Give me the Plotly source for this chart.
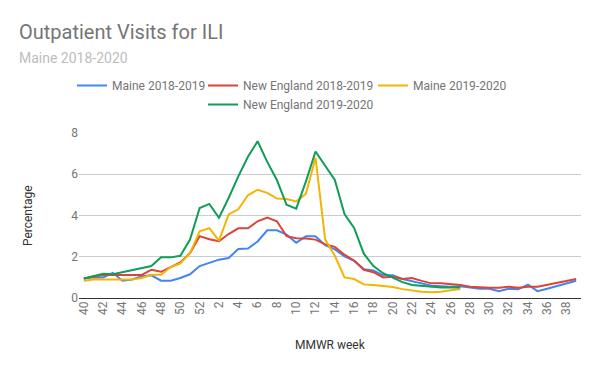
import plotly.graph_objects as go

weeks = ["40", "41", "42", "43", "44", "45", "46", "47", "48", "49", "50", "51", "52",
         "1", "2", "3", "4", "5", "6", "7", "8", "9", "10", "11", "12", "13", "14",
         "15", "16", "17", "18", "19", "20", "21", "22", "23", "24", "25", "26", "27",
         "28", "29", "30", "31", "32", "33", "34", "35", "36", "37", "38", "39"]

maine_1819 = [0.95, 1.0, 1.0, 1.22, 0.84, 0.9, 1.05, 1.1, 0.84, 0.84, 0.97, 1.15, 1.55,
              1.72, 1.86, 1.94, 2.38, 2.4, 2.74, 3.28, 3.28, 3.07, 2.68, 2.99, 2.99, 2.56, 2.36,
              2.02, 1.8, 1.4, 1.33, 1.1, 1.1, 0.92, 0.81, 0.7, 0.6, 0.57, 0.54, 0.57,
              0.5, 0.45, 0.45, 0.33, 0.45, 0.42, 0.65, 0.33, 0.45, 0.57, 0.7, 0.84]

ne_1819 = [0.95, 1.05, 1.12, 1.12, 1.12, 1.12, 1.12, 1.37, 1.27, 1.5, 1.72, 2.18, 3.0,
           2.85, 2.75, 3.1, 3.38, 3.38, 3.72, 3.9, 3.72, 3.0, 2.9, 2.88, 2.83, 2.6, 2.48,
           2.1, 1.82, 1.37, 1.25, 1.0, 1.03, 0.92, 0.97, 0.83, 0.71, 0.71, 0.68, 0.63,
           0.55, 0.52, 0.5, 0.5, 0.55, 0.5, 0.55, 0.55, 0.65, 0.75, 0.85, 0.92]

maine_1920 = [0.84, 0.9, 0.9, 0.9, 0.9, 0.9, 0.97, 1.13, 1.13, 1.5, 1.68, 2.18, 3.23,
              3.39, 2.78, 4.05, 4.3, 4.98, 5.25, 5.1, 4.82, 4.8, 4.68, 5.05, 6.8, 2.83, 2.05,
              1.0, 0.92, 0.66, 0.63, 0.58, 0.53, 0.43, 0.35, 0.3, 0.28, 0.3, 0.38, 0.43]

ne_1920 = [0.95, 1.08, 1.18, 1.15, 1.25, 1.35, 1.45, 1.55, 1.97, 1.97, 2.05, 2.83, 4.36,
           4.56, 3.89, 4.85, 5.9, 6.85, 7.6, 6.6, 5.72, 4.52, 4.33, 5.64, 7.1, 6.42, 5.72,
           4.07, 3.4, 2.15, 1.55, 1.2, 1.0, 0.77, 0.63, 0.58, 0.53, 0.51, 0.51, 0.51]

series = [
    ("Maine 2018-2019", maine_1819, "#4285F4", "legend"),
    ("New England 2018-2019", ne_1819, "#DB4437", "legend2"),
    ("Maine 2019-2020", maine_1920, "#F4B400", "legend3"),
    ("New England 2019-2020", ne_1920, "#0F9D58", "legend2"),
]

fig = go.Figure()
for name, vals, color, leg in series:
    fig.add_trace(go.Scatter(
        x=weeks[:len(vals)], y=vals, name=name, mode="lines",
        line=dict(color=color, width=2), legend=leg,
    ))

L, R, T, B = 78.5, 18.5, 133, 72.5
PW, PH = 600 - L - R, 371 - T - B


def px_x(p):
    return (p - L) / PW


def px_y(p):
    return (371 - B - p) / PH


legend_common = dict(
    orientation="v", xref="container", yref="container",
    xanchor="left", yanchor="top",
    font=dict(family="Roboto", size=12, color="#757575"),
    bgcolor="rgba(0,0,0,0)", tracegroupgap=0,
)

fig.update_layout(
    width=600, height=371,
    margin=dict(l=L, r=R, t=T, b=B, autoexpand=False),
    paper_bgcolor="white", plot_bgcolor="white",
    font=dict(family="Roboto", size=12, color="#757575"),
    title=dict(text="Outpatient Visits for ILI", xref="container", yref="container",
               x=19 / 600, y=1 - 32 / 371, xanchor="left", yanchor="middle",
               font=dict(family="Roboto", size=20, color="#757575")),
    legend=dict(x=72 / 600, y=1 - 71 / 371, **legend_common),
    legend2=dict(x=203 / 600, y=1 - 71 / 371, **legend_common),
    legend3=dict(x=373 / 600, y=1 - 71 / 371, **legend_common),
    xaxis=dict(type="category", categoryorder="array", categoryarray=weeks,
               range=[-0.5, len(weeks) - 0.5],
               tickvals=weeks[::2], ticktext=weeks[::2], tickangle=-90,
               showgrid=False, ticks="", showline=False, zeroline=False,
               tickfont=dict(family="Roboto", size=12, color="#757575")),
    yaxis=dict(range=[0, 8], dtick=2, tick0=0, gridcolor="#cccccc", gridwidth=1,
               zeroline=True, zerolinecolor="#333333", zerolinewidth=1,
               ticks="", showline=False,
               tickfont=dict(family="Roboto", size=12, color="#757575")),
    annotations=[
        dict(text="Maine 2018-2020", xref="paper", yref="paper",
             x=px_x(16), y=px_y(58), xanchor="left", yanchor="middle", showarrow=False,
             font=dict(family="Roboto", size=14, color="#BDBDBD")),
        dict(text="MMWR week", xref="paper", yref="paper",
             x=0.5, y=px_y(346), xanchor="center", yanchor="middle", showarrow=False,
             font=dict(family="Roboto", size=12, color="#333333")),
        dict(text="Percentage", xref="paper", yref="paper", textangle=-90,
             x=px_x(27), y=0.5, xanchor="center", yanchor="middle", showarrow=False,
             font=dict(family="Roboto", size=12, color="#333333")),
    ],
    showlegend=True,
)

fig.write_html("out.html", config={"displayModeBar": False},
               post_script="document.body.style.margin='0';")
